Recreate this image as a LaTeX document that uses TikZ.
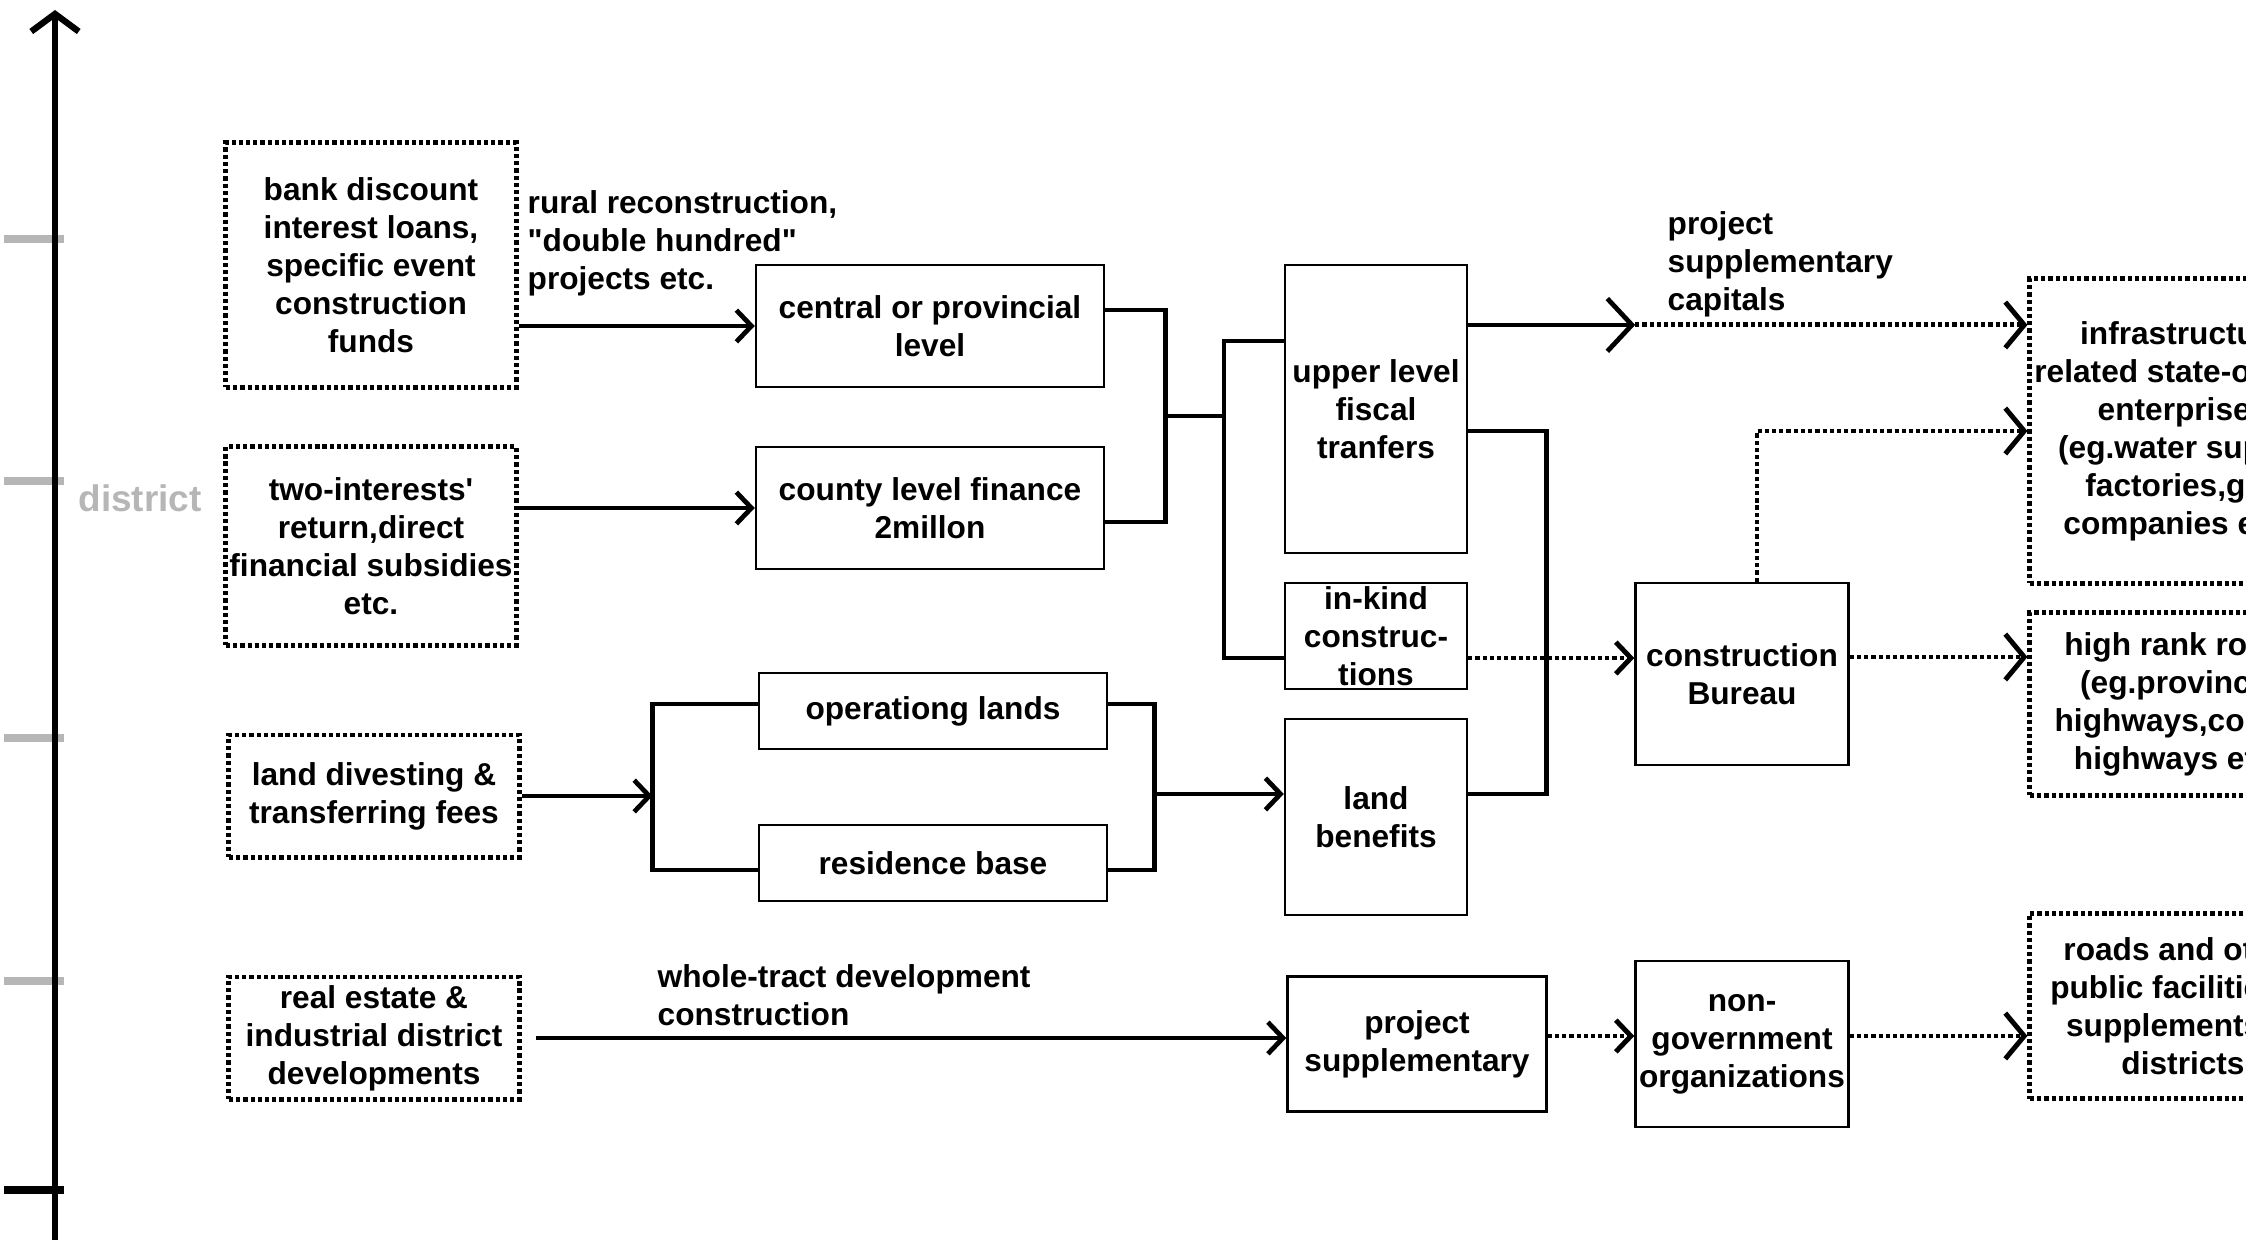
\documentclass[tikz,border=0pt]{standalone}
\usepackage{fontspec}
\setmainfont{Liberation Sans}
\usetikzlibrary{arrows.meta}
\definecolor{tickgray}{RGB}{182,182,182}

\begin{document}
\begin{tikzpicture}[x=0.01cm, y=-0.01cm,
    font=\fontsize{9}{10.8}\selectfont\bfseries,
    >={Straight Barb[length=4.3pt,width=9pt]},
    box/.style={draw=black, line width=0.65pt, inner sep=0pt, align=center},
    dotbox/.style={draw=black, line width=1.4pt, dash pattern=on 1.2pt off 0.85pt, inner sep=0pt, align=center},
    link/.style={line width=1.35pt},
    dotlink/.style={line width=1.4pt, dash pattern=on 1.2pt off 0.85pt},
    bigtip/.style={-{Straight Barb[length=5.4pt,width=13pt]}},
    lbl/.style={inner sep=0pt, anchor=west, align=left},
    tickmark/.style={line width=2pt, draw=tickgray}]
    \useasboundingbox (0,0) rectangle (2246,1240);
    \clip (0,0) rectangle (2246,1240);

    % scale on the left
    \coordinate (axbot) at (55,1240);
    \coordinate (axtop) at (55,10);
    \foreach \ty in {239,481,738,981}
        \draw[tickmark] (4,\ty) -- (64,\ty);
    \draw[line width=2pt, draw=black] (4,1190) -- (64,1190);
    \draw[line width=1.8pt, -{Straight Barb[length=5pt,width=13.5pt]}] (axbot) -- (axtop);
    \node[text=tickgray, font=\fontsize{10.5}{12.6}\selectfont\bfseries] at (140,498) (district) {district};

    % sources
    \node[dotbox, minimum width=2.9cm, minimum height=2.44cm] at (371,265) (bank) {bank discount\\interest loans,\\specific event\\construction\\funds};
    \node[dotbox, minimum width=2.9cm, minimum height=1.98cm] at (371,546) (twoint) {two-interests\textquotesingle\\return,direct\\financial subsidies\\etc.};
    \node[dotbox, minimum width=2.9cm, minimum height=1.22cm] at (374,796) (landfee) {land divesting \&\\transferring fees};
    \node[dotbox, minimum width=2.9cm, minimum height=1.22cm] at (374,1038) (realest) {real estate \&\\industrial district\\developments};

    % levels
    \node[box, minimum width=3.48cm, minimum height=1.22cm] at (930,326) (central) {central or provincial\\level};
    \node[box, minimum width=3.48cm, minimum height=1.22cm] at (930,508) (county) {county level finance\\2millon};
    \node[box, minimum width=3.48cm, minimum height=0.76cm] at (933,711) (operating) {operationg lands};
    \node[box, minimum width=3.48cm, minimum height=0.76cm] at (933,863) (residence) {residence base};
    \node[box, minimum width=1.82cm, minimum height=2.88cm] at (1376,409) (upper) {upper level\\fiscal\\tranfers};
    \node[box, minimum width=1.82cm, minimum height=1.06cm] at (1376,636) (inkind) {in-kind\\construc-\\tions};
    \node[box, minimum width=1.82cm, minimum height=1.96cm] at (1376,817) (landben) {land\\benefits};
    \node[box, minimum width=2.59cm, minimum height=1.35cm] at (1417,1044) (projsupp) {project\\supplementary};
    \node[box, minimum width=2.13cm, minimum height=1.82cm] at (1742,674) (bureau) {construction\\Bureau};
    \node[box, minimum width=2.13cm, minimum height=1.66cm] at (1742,1044) (ngo) {non-\\government\\organizations};

    % uses
    \node[dotbox, minimum width=3.06cm, minimum height=3.04cm] at (2183,431) (infra) {infrastructure\\related state-owned\\enterprises\\(eg.water supply\\factories,gas\\companies etc.)};
    \node[dotbox, minimum width=3.06cm, minimum height=1.82cm] at (2183,704) (highrank) {high rank roads\\(eg.provincial\\highways,county\\highways etc.)};
    \node[dotbox, minimum width=3.06cm, minimum height=1.85cm] at (2183,1006) (roads) {roads and other\\public facilities in\\supplements of\\districts};

    % labels
    \node[lbl] at (527,243) (rurallbl) {rural reconstruction,\\\textquotedbl double hundred\textquotedbl\\projects etc.};
    \node[lbl] at (1667,264) (capitallbl) {project\\supplementary\\capitals};
    \node[lbl] at (657,995) (tractlbl) {whole-tract development\\construction};

    % sources to levels
    \draw[link, ->] (bank.east |- central.west) -- (central.west);
    \draw[link, ->] (twoint.east |- county.west) -- (county.west);
    \draw[link] ([yshift=0.16cm]central.east) -- ++(60,0) coordinate (cbar) |- ([yshift=-0.14cm]county.east);
    \coordinate (fj) at (1164,416);
    \draw[link] (fj) -- ++(60,0) coordinate (ubar);
    \draw[link] ([yshift=0.68cm]upper.west) -| (ubar) |- ([yshift=-0.22cm]inkind.west);

    % upper level out
    \draw[link, -{Straight Barb[length=7pt,width=15pt]}] ([yshift=0.84cm]upper.east) -- ++(167,0) coordinate (capt);
    \draw[dotlink, bigtip] (capt) -- (capt -| infra.west);
    \draw[link] ([yshift=-0.22cm]upper.east) -- ++(78,0) |- ([yshift=0.23cm]landben.east);

    % bureau
    \draw[dotlink, ->] ([yshift=-0.22cm]inkind.east) coordinate (ik) -- (ik -| bureau.west);
    \draw[dotlink, bigtip] ([yshift=0.17cm]bureau.east) coordinate (bh) -- (bh -| highrank.west);
    \draw[dotlink, bigtip] ([xshift=0.15cm]bureau.north) |- (infra.west);

    % land
    \draw[link, ->] (landfee.east) -- ++(131,0) coordinate (lj);
    \draw[link] ([yshift=0.07cm]operating.west) -| (lj) |- ([yshift=-0.07cm]residence.west);
    \draw[link] ([yshift=0.07cm]operating.east) -- ++(46,0) coordinate (rb) |- ([yshift=-0.07cm]residence.east);
    \coordinate (lbw) at ([yshift=0.23cm]landben.west);
    \draw[link, ->] (rb |- lbw) -- (lbw);

    % development
    \draw[link, ->] ([xshift=0.14cm]realest.east) -- (realest.east -| projsupp.west);
    \draw[dotlink, ->] ([yshift=0.08cm]projsupp.east) coordinate (pe) -- (pe -| ngo.west);
    \draw[dotlink, bigtip] ([yshift=0.08cm]ngo.east) coordinate (ne) -- (ne -| roads.west);
\end{tikzpicture}
\end{document}
